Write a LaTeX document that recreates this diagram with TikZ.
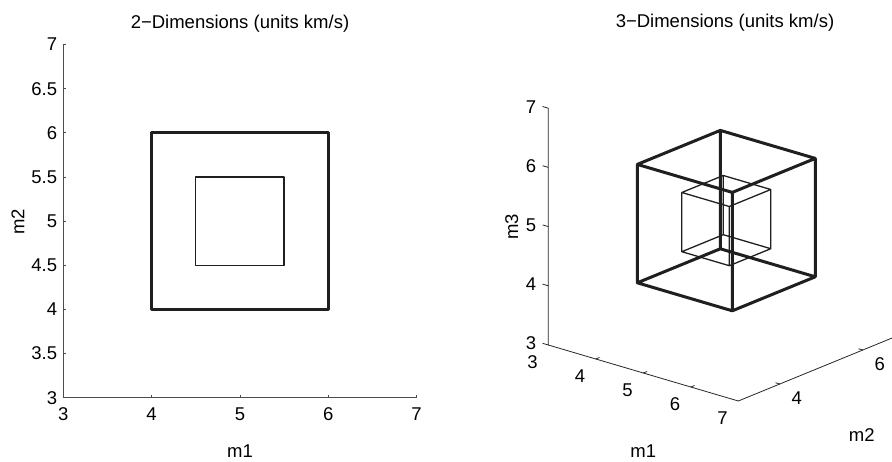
\documentclass[tikz,border=0pt]{standalone}
\usepackage{fontspec}
\setmainfont{Liberation Sans}
\usepackage{tikz}
\usetikzlibrary{positioning}

% wire frame of a cube from (lo,lo,lo) to (hi,hi,hi)
\newcommand{\wirecube}[3]{%
  \draw[#1] (#2,#2,#2) -- (#3,#2,#2) -- (#3,#3,#2) -- (#2,#3,#2) -- cycle
    (#2,#2,#3) -- (#3,#2,#3) -- (#3,#3,#3) -- (#2,#3,#3) -- cycle
    (#2,#2,#2) -- (#2,#2,#3) (#3,#2,#2) -- (#3,#2,#3)
    (#3,#3,#2) -- (#3,#3,#3) (#2,#3,#2) -- (#2,#3,#3);}

\begin{document}
\begin{tikzpicture}[x=1pt, y=1pt,
  ax/.style={line width=0.8pt, draw=black!70},
  axthree/.style={line width=0.8pt, draw=black!85},
  outerline/.style={line width=3pt, draw=black!88, line join=round},
  innerline/.style={line width=1.3pt, draw=black!88, line join=round},
  lbl/.style={font=\fontsize{18.5}{20}\selectfont, inner sep=0pt},
]
  \useasboundingbox (0,0) rectangle (892,461);

  % 2-D panel
  \node[lbl] (title2d) at (240,437) {2−Dimensions (units km/s)};
  \node[lbl] (xlab2d) at (240,9.5) {m1};
  \node[lbl, rotate=90] (ylab2d) at (18,239) {m2};
  \begin{scope}[x=88.3pt, y=88.3pt, shift={(-201.6pt,-201.6pt)}]
    \draw[ax] (3,7) -- (3,3) -- (7,3);
    \foreach \t in {4,5,6,7}
      \draw[ax] (\t,3) -- ++(0,3pt);
    \foreach \t in {3.5,4,4.5,5,5.5,6,6.5,7}
      \draw[ax] (3,\t) -- ++(3pt,0);
    \foreach \t in {3,4,5,6,7}
      \node[lbl, anchor=north] (xt\t) at ([yshift=-10pt]\t,3) {\t};
    \foreach \t [count=\i] in {3,3.5,4,4.5,5,5.5,6,6.5,7}
      \node[lbl, anchor=east] (yt\i) at ([xshift=-6pt]3,\t) {\t};
    \draw[outerline] (4,4) rectangle (6,6);
    \draw[innerline] (4.5,4.5) rectangle (5.5,5.5);
  \end{scope}

  % 3-D panel
  \node[lbl] (title3d) at (725,438) {3−Dimensions (units km/s)};
  \node[lbl] (xlab3d) at (643.3,9.5) {m1};
  \node[lbl] (ylab3d) at (861.7,26) {m2};
  \node[lbl, rotate=90] (zlab3d) at (511.7,234.3) {m3};
  \begin{scope}[shift={(281.3pt,-70.6pt)},
      x={(47.5pt,-14pt)}, y={(41.5pt,17pt)}, z={(0pt,59.2pt)}]
    \draw[axthree] (3,3,7) -- (3,3,3) -- (7,3,3) -- (7,7,3);
    \foreach \t in {3,4,5,6,7}
      \draw[axthree] (3,3,\t) -- ++(-0.12,0,0);
    \foreach \t in {4,5,6}
      \draw[axthree] (\t,3,3) -- ++(0,0.09,0);
    \foreach \t in {4,6}
      \draw[axthree] (7,\t,3) -- ++(-0.09,0,0);
    \foreach \t in {3,4,5,6,7}
      \node[lbl, anchor=east] (zt\t) at ([shift={(-12pt,1.5pt)}]3,3,\t) {\t};
    \foreach \t in {3,4,5,6,7}
      \node[lbl] (mt\t) at ([shift={(-15.8pt,-17.5pt)}]\t,3,3) {\t};
    \foreach \t in {4,6}
      \node[lbl] (nt\t) at ([shift={(17pt,-14pt)}]7,\t,3) {\t};
    \wirecube{outerline}{4}{6}
    \wirecube{innerline}{4.5}{5.5}
  \end{scope}
\end{tikzpicture}
\end{document}
